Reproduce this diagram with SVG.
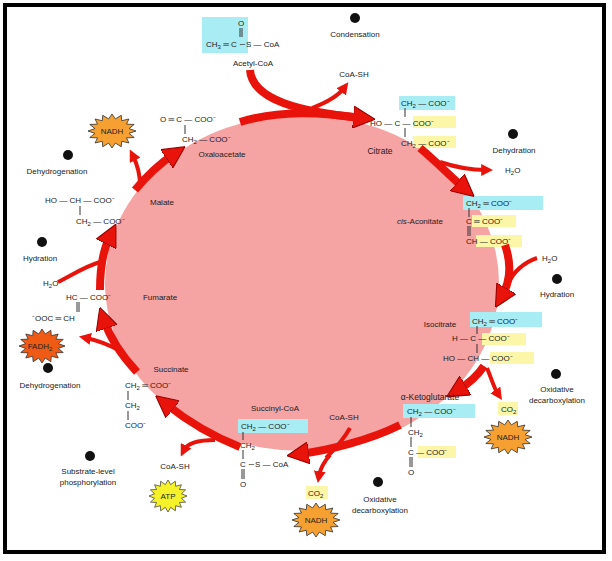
<svg xmlns="http://www.w3.org/2000/svg" width="612" height="561" viewBox="0 0 612 561">
<style>
text{font-family:"Liberation Sans",Arial,sans-serif;font-size:8px;fill:#222}
.l{font-size:8.5px}
.big{fill:none;stroke:#e8140c;stroke-width:8;stroke-linecap:butt}
.sm{fill:none;stroke:#e8140c;stroke-width:4}
.cy{fill:#a8ecf4}
.ye{fill:#fbf6a8}
.ic{fill:#111}
.star{stroke:#333;stroke-width:0.8}
</style>
<defs>
<marker id="ah" markerUnits="userSpaceOnUse" viewBox="0 0 10 10" refX="4" refY="5" markerWidth="22" markerHeight="22" orient="auto"><path d="M0,0 L10,5 L0,10 Z" fill="#e8140c" stroke="#900" stroke-width="0.5"/></marker>
<marker id="as" markerUnits="userSpaceOnUse" viewBox="0 0 10 10" refX="4" refY="5" markerWidth="12" markerHeight="12" orient="auto"><path d="M0,0 L10,5 L0,10 Z" fill="#e8140c"/></marker>
<polygon id="st" class="star" points="20,0 14.2,2.8 18.5,7.7 12.1,8.1 14.1,14.1 8.1,12.1 7.7,18.5 2.8,14.2 0,20 -2.8,14.2 -7.7,18.5 -8.1,12.1 -14.1,14.1 -12.1,8.1 -18.5,7.7 -14.2,2.8 -20,0 -14.2,-2.8 -18.5,-7.7 -12.1,-8.1 -14.1,-14.1 -8.1,-12.1 -7.7,-18.5 -2.8,-14.2 0,-20 2.8,-14.2 7.7,-18.5 8.1,-12.1 14.1,-14.1 12.1,-8.1 18.5,-7.7 14.2,-2.8"/>
</defs>
<rect width="612" height="561" fill="#fff"/>
<rect x="5" y="5" width="599" height="547" fill="none" stroke="#000" stroke-width="4"/>
<ellipse cx="302" cy="283" rx="197" ry="168" fill="#f5a3a3"/>

<rect class="cy" x="202" y="17" width="46" height="36"/>
<rect class="cy" x="399" y="96" width="56" height="14"/>
<rect class="ye" x="413" y="116" width="43" height="12"/>
<rect class="ye" x="413" y="136" width="43" height="12"/>
<rect class="cy" x="463" y="196" width="80" height="14"/>
<rect class="ye" x="472" y="215" width="44" height="12"/>
<rect class="ye" x="476" y="235" width="46" height="12"/>
<rect class="cy" x="470" y="312" width="72" height="15"/>
<rect class="ye" x="482" y="333" width="44" height="12"/>
<rect class="ye" x="490" y="352" width="44" height="12"/>
<rect class="cy" x="403" y="404" width="72" height="14"/>
<rect class="ye" x="418" y="446" width="38" height="12"/>
<rect class="cy" x="238" y="419" width="70" height="14"/>
<rect class="ye" x="498" y="402" width="20" height="13"/>
<rect class="ye" x="306" y="486" width="22" height="13"/>

<g id="connectors">
<path class="big" d="M250,70 C252,100 300,112 362,118" marker-end="url(#ah)"/>
<path class="big" d="M240,122 C280,110 320,112 362,118"/>
<path class="sm" d="M312,108 C328,102 338,96 344,88" marker-end="url(#as)"/>
<path class="big" d="M420,148 C440,165 452,178 464,188" marker-end="url(#ah)"/>
<path class="sm" d="M440,162 C458,168 472,170 486,170" marker-end="url(#as)"/>
<path class="big" d="M505,245 C512,265 510,282 502,296" marker-end="url(#ah)"/>
<path class="sm" d="M537,258 C525,262 512,272 508,285"/>
<path class="big" d="M484,366 C476,378 468,384 458,390" marker-end="url(#ah)"/>
<path class="sm" d="M487,368 C492,380 494,388 498,394" marker-end="url(#as)"/>
<path class="big" d="M400,425 C370,440 330,450 300,454" marker-end="url(#ah)"/>
<path class="sm" d="M350,428 C342,442 334,450 326,458"/>
<path class="sm" d="M330,455 C322,464 320,470 319,476" marker-end="url(#as)"/>
<path class="big" d="M240,447 C212,436 186,420 166,404" marker-end="url(#ah)"/>
<path class="sm" d="M215,440 C196,440 187,444 184,450" marker-end="url(#as)"/>
<path class="big" d="M137,372 C122,356 110,338 104,320" marker-end="url(#ah)"/>
<path class="sm" d="M122,352 C110,345 96,340 86,338" marker-end="url(#as)"/>
<path class="big" d="M100,290 C100,266 104,248 110,236" marker-end="url(#ah)"/>
<path class="sm" d="M58,282 C72,275 86,266 100,262"/>
<path class="big" d="M135,190 C150,172 162,162 174,154" marker-end="url(#ah)"/>
<path class="sm" d="M140,185 C140,172 137,164 133,156" marker-end="url(#as)"/>
</g>

<g id="nadh1"><use href="#st" transform="translate(112,131) scale(1.2,0.85)" fill="#f5a030"/><text x="112" y="134" text-anchor="middle">NADH</text></g>
<g id="fadh"><use href="#st" transform="translate(42,346) scale(1.15,0.85)" fill="#ef5a14"/><text x="40" y="349" text-anchor="middle">FADH<tspan font-size="6" dy="2">2</tspan></text></g>
<g id="atp"><use href="#st" transform="translate(168,496) scale(0.95,0.8)" fill="#f6f22a"/><text x="168" y="499" text-anchor="middle">ATP</text></g>
<g id="nadh2"><use href="#st" transform="translate(316,520) scale(1.2,0.85)" fill="#f5a030"/><text x="316" y="523" text-anchor="middle">NADH</text></g>
<g id="nadh3"><use href="#st" transform="translate(508,437) scale(1.2,0.85)" fill="#f5a030"/><text x="508" y="440" text-anchor="middle">NADH</text></g>

<circle class="ic" cx="355" cy="18" r="5"/><circle class="ic" cx="513" cy="134" r="5"/><circle class="ic" cx="557" cy="279" r="5"/>
<circle class="ic" cx="556" cy="374" r="5"/><circle class="ic" cx="378" cy="482" r="5"/><circle class="ic" cx="90" cy="456" r="5"/>
<circle class="ic" cx="48" cy="368" r="5"/><circle class="ic" cx="42" cy="242" r="5"/><circle class="ic" cx="68" cy="155" r="5"/>

<g id="labels">
<text x="355" y="37" text-anchor="middle">Condensation</text>
<text x="514" y="153" text-anchor="middle">Dehydration</text>
<text x="557" y="297" text-anchor="middle">Hydration</text>
<text x="557" y="392" text-anchor="middle">Oxidative</text>
<text x="557" y="403" text-anchor="middle">decarboxylation</text>
<text x="380" y="502" text-anchor="middle">Oxidative</text>
<text x="380" y="513" text-anchor="middle">decarboxylation</text>
<text x="88" y="474" text-anchor="middle">Substrate-level</text>
<text x="88" y="485" text-anchor="middle">phosphorylation</text>
<text x="50" y="388" text-anchor="middle">Dehydrogenation</text>
<text x="40" y="261" text-anchor="middle">Hydration</text>
<text x="57" y="174" text-anchor="middle">Dehydrogenation</text>
</g>

<g id="acetylcoa">
<text x="241" y="26" text-anchor="middle">O</text>
<path d="M240,28 V37 M242,28 V37" stroke="#333" stroke-width="1"/>
<text x="206" y="47">CH<tspan font-size="6" dy="2">3</tspan><tspan dy="-2"> ═ C  ∼S — CoA</tspan></text>
<text x="253" y="66" text-anchor="middle">Acetyl-CoA</text>
<text x="354" y="77" text-anchor="middle">CoA-SH</text>
</g>
<g id="citrate">
<text x="401" y="106">CH<tspan font-size="6" dy="2">2</tspan><tspan dy="-2"> — COO⁻</tspan></text>
<text x="370" y="126">HO — C — COO⁻</text>
<text x="401" y="146">CH<tspan font-size="6" dy="2">2</tspan><tspan dy="-2"> — COO⁻</tspan></text>
<path d="M405,108 V117 M405,128 V137" stroke="#333" stroke-width="1"/>
<text x="380" y="154" text-anchor="middle" class="l">Citrate</text>
<text x="505" y="173">H<tspan font-size="6" dy="2">2</tspan><tspan dy="-2">O</tspan></text>
</g>
<g id="cisaconitate">
<text x="466" y="206">CH<tspan font-size="6" dy="2">2</tspan><tspan dy="-2"> ═ COO⁻</tspan></text>
<text x="420" y="224" text-anchor="middle"><tspan font-style="italic">cis</tspan>-Aconitate</text>
<text x="466" y="224">C ═ COO⁻</text>
<text x="466" y="244">CH — COO⁻</text>
<path d="M469,208 V217 M468,226 V236 M470,226 V236" stroke="#333" stroke-width="1"/>
<text x="542" y="261">H<tspan font-size="6" dy="2">2</tspan><tspan dy="-2">O</tspan></text>
</g>
<g id="isocitrate">
<text x="440" y="327" text-anchor="middle">Isocitrate</text>
<text x="472" y="324">CH<tspan font-size="6" dy="2">2</tspan><tspan dy="-2"> ═ COO⁻</tspan></text>
<text x="452" y="341">H — C — COO⁻</text>
<text x="443" y="361">HO — CH — COO⁻</text>
<path d="M477,326 V334 M477,344 V353" stroke="#333" stroke-width="1"/>
<text x="501" y="412">CO<tspan font-size="6" dy="2">2</tspan></text>
</g>
<g id="aketoglutarate">
<text x="430" y="400" text-anchor="middle" class="l">α-Ketoglutarate</text>
<text x="407" y="414">CH<tspan font-size="6" dy="2">2</tspan><tspan dy="-2"> — COO⁻</tspan></text>
<text x="408" y="435">CH<tspan font-size="6" dy="2">2</tspan></text>
<text x="408" y="455">C — COO⁻</text>
<text x="408" y="475">O</text>
<path d="M411,417 V427 M411,437 V447 M410,457 V467 M412,457 V467" stroke="#333" stroke-width="1"/>
<text x="344" y="420" text-anchor="middle">CoA-SH</text>
<text x="308" y="496">CO<tspan font-size="6" dy="2">2</tspan></text>
</g>
<g id="succinylcoa">
<text x="275" y="411" text-anchor="middle">Succinyl-CoA</text>
<text x="241" y="429">CH<tspan font-size="6" dy="2">2</tspan><tspan dy="-2"> — COO⁻</tspan></text>
<text x="240" y="448">CH<tspan font-size="6" dy="2">2</tspan></text>
<text x="240" y="467">C  ∼S — CoA</text>
<text x="240" y="487">O</text>
<path d="M243,432 V440 M243,450 V459 M242,469 V479 M244,469 V479" stroke="#333" stroke-width="1"/>
<text x="175" y="469" text-anchor="middle">CoA-SH</text>
</g>
<g id="succinate">
<text x="171" y="372" text-anchor="middle">Succinate</text>
<text x="125" y="388">CH<tspan font-size="6" dy="2">2</tspan><tspan dy="-2"> ═ COO⁻</tspan></text>
<text x="125" y="408">CH<tspan font-size="6" dy="2">2</tspan></text>
<text x="125" y="428">COO⁻</text>
<path d="M128,391 V400 M128,411 V420" stroke="#333" stroke-width="1"/>
</g>
<g id="fumarate">
<text x="66" y="300">HC — COO⁻</text>
<text x="160" y="300" text-anchor="middle">Fumarate</text>
<text x="32" y="321">⁻OOC ═ CH</text>
<path d="M77,302 V312 M79,302 V312" stroke="#333" stroke-width="1"/>
<text x="43" y="286">H<tspan font-size="6" dy="2">2</tspan><tspan dy="-2">O</tspan></text>
</g>
<g id="malate">
<text x="45" y="203">HO — CH — COO⁻</text>
<text x="162" y="205" text-anchor="middle">Malate</text>
<text x="76" y="224">CH<tspan font-size="6" dy="2">2</tspan><tspan dy="-2"> — COO⁻</tspan></text>
<path d="M80,206 V215" stroke="#333" stroke-width="1"/>
</g>
<g id="oxaloacetate">
<text x="160" y="122">O ═ C — COO⁻</text>
<text x="182" y="142">CH<tspan font-size="6" dy="2">2</tspan><tspan dy="-2"> — COO⁻</tspan></text>
<path d="M185,125 V134" stroke="#333" stroke-width="1"/>
<text x="222" y="157" text-anchor="middle">Oxaloacetate</text>
</g>
</svg>
